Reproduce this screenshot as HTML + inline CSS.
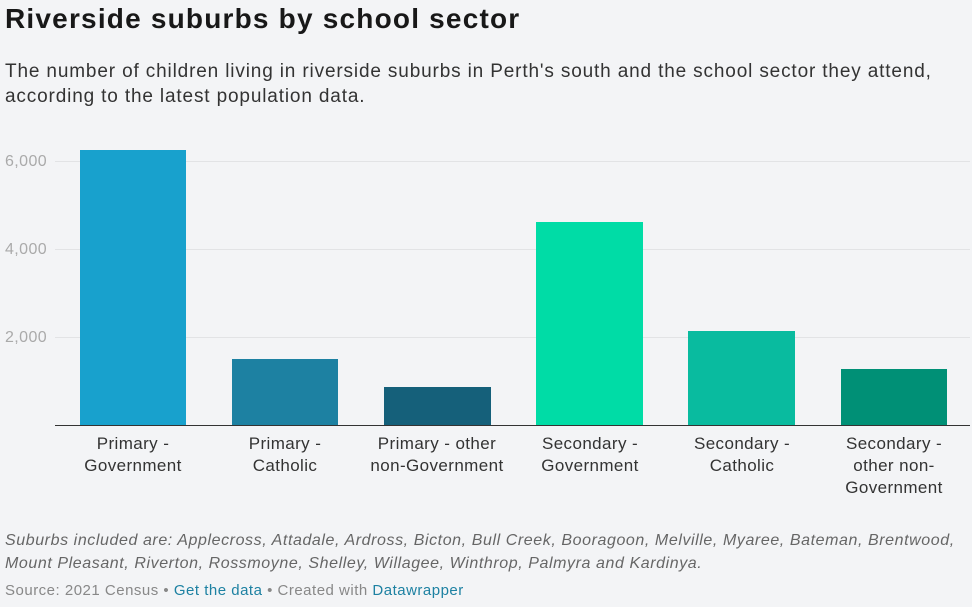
<!DOCTYPE html>
<html><head><meta charset="utf-8"><style>
body{margin:0;width:972px;height:607px;background:#f3f4f6;font-family:"Liberation Sans",sans-serif;position:relative;overflow:hidden;color:#181818}
.a{position:absolute;white-space:nowrap}
.t{left:5px;top:3px;font-size:28px;font-weight:bold;color:#181818;letter-spacing:1.2px}
.s{left:5px;top:59px;font-size:19px;line-height:25px;color:#333;letter-spacing:0.85px}
.y{left:5px;font-size:16px;color:#aaa;letter-spacing:0.4px}
.g{position:absolute;left:55px;width:915px;height:1px;background:#e2e3e5}
.b{position:absolute}
.l{position:absolute;top:433px;width:160px;text-align:center;font-size:17px;line-height:22px;color:#333;letter-spacing:0.4px}
.n{left:5px;top:529px;font-size:16px;line-height:23px;font-style:italic;color:#666;letter-spacing:0.58px}
.src{left:5px;top:582px;font-size:15px;color:#888;letter-spacing:0.5px}
.src span{color:#1d81a2}
</style></head><body>
<div class="a t">Riverside suburbs by school sector</div>
<div class="a s">The number of children living in riverside suburbs in Perth's south and the school sector they attend,<br>according to the latest population data.</div>
<div class="g" style="top:161px"></div>
<div class="g" style="top:249px"></div>
<div class="g" style="top:337px"></div>
<div class="a y" style="top:153px">6,000</div>
<div class="a y" style="top:241px">4,000</div>
<div class="a y" style="top:329px">2,000</div>
<div class="b" style="left:80px;width:106px;top:150px;height:275px;background:#18a1cd"></div>
<div class="b" style="left:232px;width:106px;top:359px;height:66px;background:#1d81a2"></div>
<div class="b" style="left:384px;width:107px;top:387px;height:38px;background:#15607a"></div>
<div class="b" style="left:536px;width:107px;top:222px;height:203px;background:#00dca6"></div>
<div class="b" style="left:688px;width:107px;top:331px;height:94px;background:#09bb9f"></div>
<div class="b" style="left:841px;width:106px;top:369px;height:56px;background:#009076"></div>
<div class="b" style="left:55px;width:915px;top:425px;height:1px;background:#333"></div>
<div class="l" style="left:53px">Primary -<br>Government</div>
<div class="l" style="left:205px">Primary -<br>Catholic</div>
<div class="l" style="left:357px">Primary - other<br>non-Government</div>
<div class="l" style="left:510px">Secondary -<br>Government</div>
<div class="l" style="left:662px">Secondary -<br>Catholic</div>
<div class="l" style="left:814px">Secondary -<br>other non-<br>Government</div>
<div class="a n">Suburbs included are: Applecross, Attadale, Ardross, Bicton, Bull Creek, Booragoon, Melville, Myaree, Bateman, Brentwood,<br>Mount Pleasant, Riverton, Rossmoyne, Shelley, Willagee, Winthrop, Palmyra and Kardinya.</div>
<div class="a src">Source: 2021 Census • <span>Get the data</span> • Created with <span>Datawrapper</span></div>
</body></html>
